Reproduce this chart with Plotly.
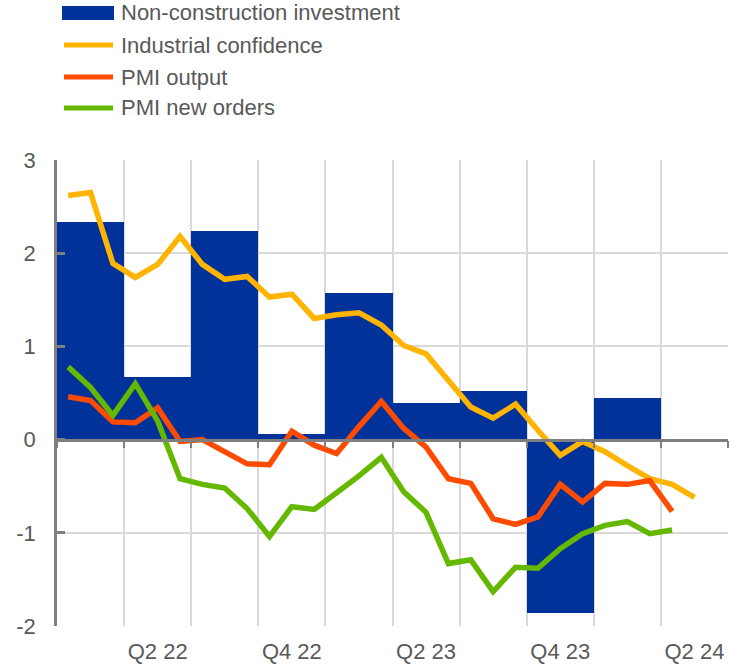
import plotly.graph_objects as go

# ---- data ----
quarters = ["Q1 22", "Q2 22", "Q3 22", "Q4 22", "Q1 23", "Q2 23", "Q3 23", "Q4 23", "Q1 24", "Q2 24"]
non_construction_investment = [2.34, 0.67, 2.24, 0.06, 1.57, 0.39, 0.52, -1.86, 0.45, None]

months = ["Jan 22", "Feb 22", "Mar 22", "Apr 22", "May 22", "Jun 22", "Jul 22", "Aug 22", "Sep 22",
          "Oct 22", "Nov 22", "Dec 22", "Jan 23", "Feb 23", "Mar 23", "Apr 23", "May 23", "Jun 23",
          "Jul 23", "Aug 23", "Sep 23", "Oct 23", "Nov 23", "Dec 23", "Jan 24", "Feb 24", "Mar 24",
          "Apr 24", "May 24"]
industrial_confidence = [2.62, 2.65, 1.89, 1.74, 1.88, 2.18, 1.88, 1.72, 1.75, 1.53, 1.56, 1.30,
                         1.34, 1.36, 1.23, 1.01, 0.92, 0.63, 0.35, 0.23, 0.38, 0.10, -0.17, -0.02,
                         -0.13, -0.28, -0.42, -0.48, -0.62]
pmi_output = [0.46, 0.42, 0.19, 0.18, 0.34, -0.02, 0.00, -0.13, -0.26, -0.27, 0.09, -0.06,
              -0.15, 0.14, 0.41, 0.12, -0.08, -0.42, -0.47, -0.85, -0.91, -0.83, -0.48, -0.67,
              -0.47, -0.48, -0.44, -0.77]
pmi_new_orders = [0.78, 0.56, 0.26, 0.60, 0.20, -0.42, -0.48, -0.52, -0.74, -1.04, -0.72, -0.75,
                  -0.57, -0.39, -0.19, -0.56, -0.78, -1.33, -1.29, -1.63, -1.37, -1.38, -1.17, -1.01,
                  -0.92, -0.88, -1.01, -0.97]

y_ticks = [-2, -1, 0, 1, 2, 3]
y_ticktext = ["-2", "-1", "0", "1", "2", "3"]
x_labels = ["Q2 22", "Q4 22", "Q2 23", "Q4 23", "Q2 24"]

# ---- positions on a numeric axis (1 unit = 1 quarter) ----
q_x = [i + 0.5 for i in range(len(quarters))]
def month_x(n):
    return [(i + 0.5) / 3 for i in range(n)]
label_x = [q_x[quarters.index(l)] for l in x_labels]

BLUE = "#003299"
YELLOW = "#FFB400"
RED = "#FF4B00"
GREEN = "#65B800"
GRID = "#D9D9D9"
AXIS = "#7F7F7F"
TEXT = "#595959"
FONT = "Liberation Sans, Arial, sans-serif"

W, H = 730, 666
ML, MR, MT, MB = 57, 2, 160, 40
PW, PH = W - ML - MR, H - MT - MB

fig = go.Figure()
series = [
    ("bar", "Non-construction investment", BLUE, q_x, non_construction_investment),
    ("line", "Industrial confidence", YELLOW, month_x(len(industrial_confidence)), industrial_confidence),
    ("line", "PMI output", RED, month_x(len(pmi_output)), pmi_output),
    ("line", "PMI new orders", GREEN, month_x(len(pmi_new_orders)), pmi_new_orders),
]
for kind, name, color, xs, ys in series:
    if kind == "bar":
        fig.add_trace(go.Bar(x=xs, y=ys, width=1.0, name=name,
                             marker=dict(color=color, line=dict(width=0))))
    else:
        fig.add_trace(go.Scatter(x=xs, y=ys, mode="lines", name=name,
                                 line=dict(color=color, width=5.5)))

y_lo, y_hi = -2, 3
zero_pos = (0 - y_lo) / (y_hi - y_lo)

# ---- custom legend (wide swatches as in the original) ----
def px_x(p):
    return (p - ML) / PW
def px_y(p):
    return (H - MB - p) / PH

row_y = [13, 45, 77, 108]
for (kind, name, color, _, _), ry in zip(series, row_y):
    if kind == "bar":
        fig.add_shape(type="rect", xref="paper", yref="paper",
                      x0=px_x(62), x1=px_x(114), y0=px_y(ry + 7), y1=px_y(ry - 7),
                      fillcolor=color, line=dict(width=0))
    else:
        fig.add_shape(type="line", xref="paper", yref="paper",
                      x0=px_x(64), x1=px_x(113), y0=px_y(ry), y1=px_y(ry),
                      line=dict(color=color, width=5))
    fig.add_annotation(xref="paper", yref="paper", x=px_x(119), y=px_y(ry),
                       xanchor="left", yanchor="middle", text=name, showarrow=False,
                       font=dict(size=22, color=TEXT, family=FONT))

fig.update_layout(
    width=W, height=H,
    margin=dict(l=ML, r=MR, t=MT, b=MB, autoexpand=False),
    paper_bgcolor="white", plot_bgcolor="white",
    font=dict(family=FONT, size=22, color=TEXT),
    showlegend=False,
    bargap=0,
    xaxis=dict(range=[0, len(quarters)], tickmode="array", tickvals=label_x, ticktext=x_labels,
               showgrid=False, zeroline=False, ticks="", showline=False, automargin=False,
               ticklabelstandoff=10, tickfont=dict(size=22, color=TEXT),
               minor=dict(tickmode="linear", tick0=0, dtick=1, showgrid=True,
                          gridcolor=GRID, gridwidth=1.5, ticks="")),
    xaxis2=dict(range=[0, len(quarters)], overlaying="x", anchor="free", position=zero_pos,
                side="bottom", tickmode="linear", tick0=0, dtick=1, showticklabels=False,
                ticks="outside", ticklen=7, tickwidth=2, tickcolor=AXIS, automargin=False,
                showline=True, linecolor=AXIS, linewidth=2.5, showgrid=False, zeroline=False),
    yaxis=dict(range=[y_lo, y_hi], tickmode="array", tickvals=y_ticks, ticktext=y_ticktext,
               showgrid=True, gridcolor=GRID, gridwidth=1.5, zeroline=False, automargin=False,
               showline=True, linecolor=AXIS, linewidth=2.5,
               ticks="inside", ticklen=8, tickwidth=2.5, tickcolor=AXIS,
               ticklabelstandoff=14, tickfont=dict(size=22, color=TEXT)),
)
# invisible trace to activate xaxis2 (the zero line with quarter ticks)
fig.add_trace(go.Scatter(x=[0, len(quarters)], y=[0, 0], xaxis="x2", mode="lines",
                         line=dict(width=0), hoverinfo="skip", showlegend=False))

fig.write_html("out.html", config={"displayModeBar": False},
               post_script="document.body.style.margin='0';")
